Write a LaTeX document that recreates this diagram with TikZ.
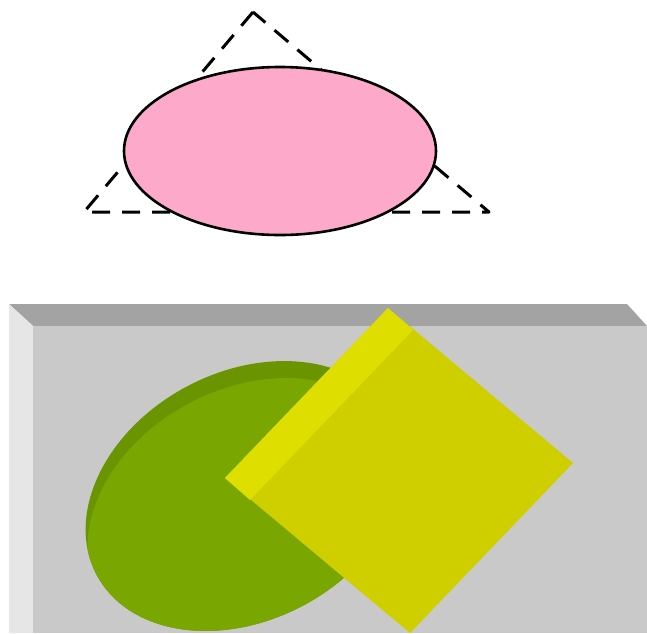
\documentclass[tikz,border=0pt]{standalone}
\usetikzlibrary{shapes.geometric,calc}
\begin{document}
\begin{tikzpicture}[x=1pt,y=-1pt,
  outline/.style={draw=black,line width=2.6pt},
  dashtri/.style={draw=black,line width=3pt,dash pattern=on 18pt off 12pt,line join=round}]
\definecolor{pinkfill}{HTML}{FDAACA}
\definecolor{boxfront}{HTML}{C9C9C9}
\definecolor{boxtop}{HTML}{A3A3A3}
\definecolor{boxleft}{HTML}{E6E6E6}
\definecolor{greendark}{HTML}{6A9400}
\definecolor{greenlight}{HTML}{79A600}
\definecolor{yelmain}{HTML}{CFCF00}
\definecolor{yelstrip}{HTML}{DEDE00}
\useasboundingbox (0,0) rectangle (647,633);
\clip (0,0) rectangle (647,633);
% top: dashed triangle and pink ellipse
\coordinate (apex) at (253,12);
\coordinate (bl) at (84,212);
\coordinate (br) at (489,212);
\draw[dashtri] (apex) -- (bl) -- (br) -- cycle;
\node[ellipse,outline,fill=pinkfill,minimum width=312pt,minimum height=168pt,inner sep=0pt] (pink) at (280,151) {};
% box
\fill[boxtop] (9,304) -- (627,304) -- (647,326) -- (33,326) -- cycle;
\fill[boxleft] (9,304) -- (33,326) -- (33,633) -- (9,633) -- cycle;
\fill[boxfront] (33,326) rectangle (647,633);
% green disc
\fill[greendark,rotate around={28:(245,496)}] (245,496) ellipse [x radius=168, y radius=124];
\begin{scope}
\clip[rotate around={28:(245,496)}] (245,496) ellipse [x radius=168, y radius=124];
\fill[greenlight,rotate around={28:(247,513)}] (247,513) ellipse [x radius=168, y radius=124];
\end{scope}
% yellow square
\coordinate (st) at (388,308);
\coordinate (sr) at (573,463);
\coordinate (sb) at (410,633);
\coordinate (sl) at (225,478);
\fill[yelmain] (st) -- (sr) -- (sb) -- (sl) -- cycle;
\fill[yelstrip] (st) -- ++(25,22) -- ($(sl)+(25,22)$) -- (sl) -- cycle;
\end{tikzpicture}
\end{document}
